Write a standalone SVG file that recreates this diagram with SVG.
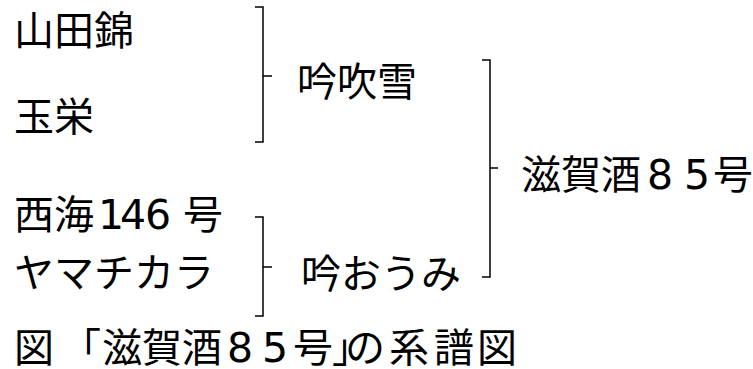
<svg xmlns="http://www.w3.org/2000/svg" width="753" height="369" viewBox="0 0 753 369">
<style>
text{font-family:"Noto Sans CJK JP","Noto Sans",sans-serif;font-size:40px;fill:#000}
.d{font-family:"DejaVu Sans","Noto Sans",sans-serif;font-size:41px}
.ln{fill:none;stroke:#000;stroke-width:1.5}
</style>
<rect width="753" height="369" fill="#fff"/>
<g id="n-yamadanishiki"><text x="14" y="45">山田錦</text></g>
<g id="n-gyokuei"><text x="14" y="131">玉栄</text></g>
<g id="n-saikai"><text y="229"><tspan x="14">西海</tspan><tspan class="d" x="98">1</tspan><tspan class="d" x="120">4</tspan><tspan class="d" x="145">6</tspan><tspan x="183">号</tspan></text></g>
<g id="n-yamachikara"><text x="14" y="287">ヤマチカラ</text></g>
<g id="n-ginfubuki"><text x="297" y="96">吟吹雪</text></g>
<g id="n-ginoumi"><text x="301" y="288">吟おうみ</text></g>
<g id="n-shiga85"><text y="189"><tspan x="521">滋賀酒</tspan><tspan class="d" x="647">8</tspan><tspan class="d" x="684">5</tspan><tspan x="713">号</tspan></text></g>
<g id="connectors">
<path class="ln" d="M255,7 H263 V142 H255 M263,76 H272"/>
<path class="ln" d="M255,217 H263 V316 H255 M263,267 H272"/>
<path class="ln" d="M482,60 H490 V277 H482 M490,168 H498"/>
</g>
<g id="caption"><text y="362"><tspan x="14">図</tspan><tspan x="61">「</tspan><tspan x="102">滋賀酒</tspan><tspan class="d" x="227">8</tspan><tspan class="d" x="262">5</tspan><tspan x="293">号</tspan><tspan x="332">」</tspan><tspan x="345">の</tspan><tspan x="389">系</tspan><tspan x="434">譜</tspan><tspan x="477">図</tspan></text></g>
</svg>
